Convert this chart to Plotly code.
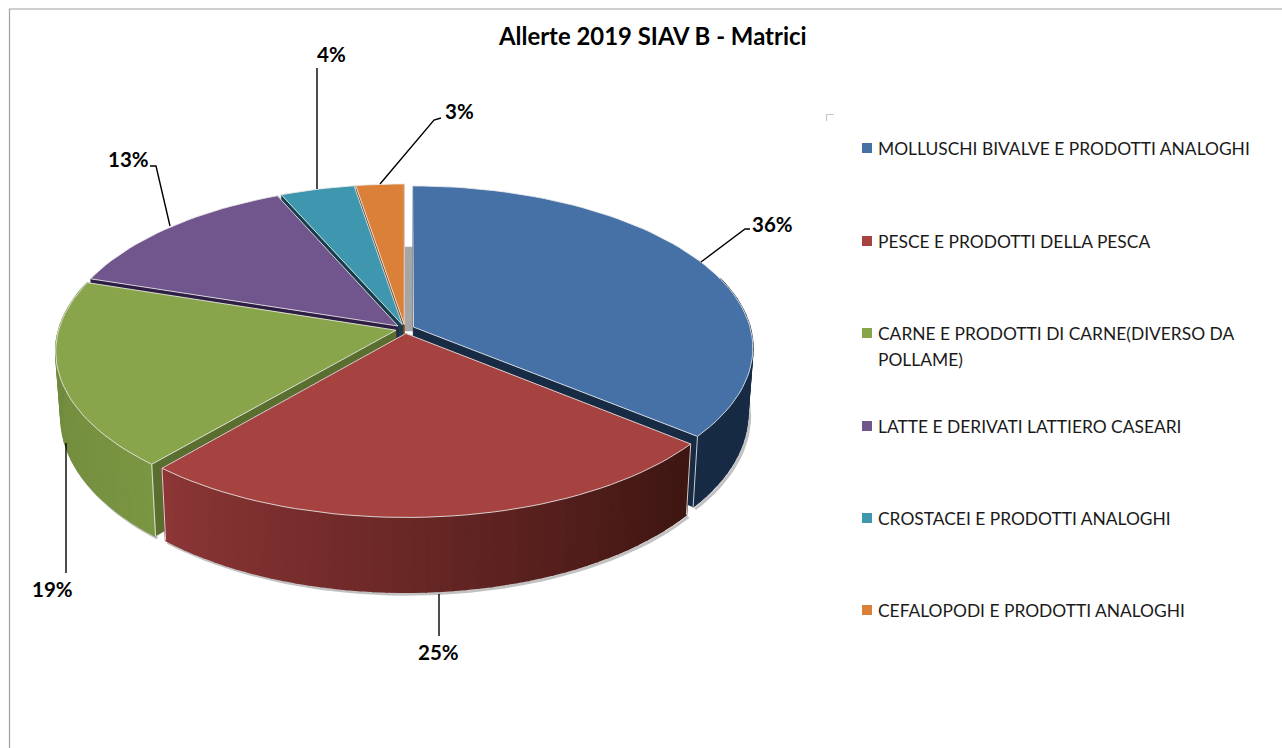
import math
import plotly.graph_objects as go

# ---------- data ----------
categories = [
    "MOLLUSCHI BIVALVE E PRODOTTI ANALOGHI",
    "PESCE E PRODOTTI DELLA PESCA",
    "CARNE E PRODOTTI DI CARNE(DIVERSO DA<br>POLLAME)",
    "LATTE E DERIVATI LATTIERO CASEARI",
    "CROSTACEI E PRODOTTI ANALOGHI",
    "CEFALOPODI E PRODOTTI ANALOGHI",
]
values = [35.9, 25.4, 18.7, 13.4, 4.0, 2.6]
title = "Allerte 2019 SIAV B - Matrici"

# ---------- styles ----------
top_colors = ["#4671A7", "#A64240", "#89A54B", "#71558D", "#3F96AF", "#DA8039"]
wall_colors = ["#172B45", "#451915", "#5A6E30", "#2E1E43", "#153F4C", "#7A4419"]
side_from = [(23, 43, 69), (140, 54, 54), (122, 150, 66), (60, 40, 90), (30, 90, 110), (140, 80, 30)]
side_to = [(23, 43, 69), (62, 22, 18), (108, 134, 60), (60, 40, 90), (30, 90, 110), (140, 80, 30)]
edge = "rgba(235,235,235,0.85)"

CX, CY = 405.0, 329.0
RX, RY = 337.0, 159.5
K = 0.1265
DEPTH = 65.0
BOTTOM_SCALE = 0.985
EXPLODE = 0.028
STEP = 2.0


def project(u, v, low=False):
    s = 1.0 / (1.0 - K * v)
    x = RX * u * s
    y = RY * v * s
    if low:
        x *= BOTTOM_SCALE
        y += DEPTH * s
    return CX + x, CY + y


def disk(a, e):
    return math.sin(a) + e[0], -math.cos(a) + e[1]


def arc(a0, a1):
    n = max(2, int(abs(a1 - a0) / STEP) + 2)
    return [math.radians(a0 + (a1 - a0) * i / (n - 1)) for i in range(n)]


total = sum(values)
slices = []
acc = 0.0
for i, val in enumerate(values):
    a0 = acc / total * 360
    acc += val
    a1 = acc / total * 360
    mid = math.radians((a0 + a1) / 2)
    slices.append(dict(i=i, a0=a0, a1=a1, e=(EXPLODE * math.sin(mid), -EXPLODE * math.cos(mid))))

fig = go.Figure()


def poly(pts, color, line=None, width=1.6):
    fig.add_trace(go.Scatter(
        x=[p[0] for p in pts] + [pts[0][0]], y=[p[1] for p in pts] + [pts[0][1]],
        mode="lines", fill="toself", fillcolor=color,
        line=dict(color=line or color, width=width),
        hoverinfo="skip", showlegend=False))


def path(pts, color, width=1):
    fig.add_trace(go.Scatter(
        x=[p[0] for p in pts], y=[p[1] for p in pts], mode="lines",
        line=dict(color=color, width=width), hoverinfo="skip", showlegend=False))


# soft drop shadow under the outer rim
for s in slices:
    if s["i"] > 2:
        continue
    pts = [project(*disk(a, s["e"]), low=True) for a in arc(s["a0"], s["a1"])]
    pts = [(x + 2, y + 2) for x, y in pts]
    path(pts, "rgba(120,120,120,0.45)", 3)

# grey inner back wall
poly([(CX, CY - 82), (CX + 8, CY - 82), (CX + 8, CY + 2), (CX, CY + 2)], "#A6A6A6", width=0.5)

# painter's order, back to front
for idx in [5, 4, 3, 0, 2, 1]:
    s = slices[idx]
    i, e = s["i"], s["e"]
    apex_t = project(e[0], e[1])
    apex_b = project(e[0], e[1], low=True)
    for a in (s["a0"], s["a1"]):
        r = math.radians(a)
        c_t = project(*disk(r, e))
        c_b = project(*disk(r, e), low=True)
        poly([apex_t, c_t, c_b, apex_b], wall_colors[i], width=0.5)
    # outer rim, shaded strip by strip, only the part that faces the viewer
    rim = arc(s["a0"], s["a1"])
    for j in range(len(rim) - 1):
        a, b = rim[j], rim[j + 1]
        if -math.cos((a + b) / 2) < -0.30:
            continue
        t = j / max(1, len(rim) - 2)
        if i == 1:
            t = 1 - t
        c = tuple(int(side_from[i][k] + (side_to[i][k] - side_from[i][k]) * t) for k in range(3))
        col = "rgb(%d,%d,%d)" % c
        poly([project(*disk(a, e)), project(*disk(b, e)),
              project(*disk(b, e), low=True), project(*disk(a, e), low=True)], col)
    # vertical corner highlights
    for a in (s["a0"], s["a1"]):
        r = math.radians(a)
        if -math.cos(r) > -0.30 and idx in (0, 1, 2):
            path([project(*disk(r, e)), project(*disk(r, e), low=True)], edge, 1)
    # top face
    top = [apex_t] + [project(*disk(a, e)) for a in rim]
    poly(top, top_colors[i], line=edge, width=1)

# ---------- legend drawn as real text beside square markers ----------
legend_y = [148, 241, 333, 426, 518, 610]
LEGEND_LEADING = 26
fig.add_trace(go.Scatter(
    x=[867] * len(categories), y=legend_y, mode="markers",
    marker=dict(symbol="square", size=10, color=top_colors, line=dict(width=0)),
    hoverinfo="skip", showlegend=False))

annotations = [dict(x=652, y=35, text="<b>%s</b>" % title, showarrow=False,
                    font=dict(family="Lato", size=23.9, color="#000000"),
                    xanchor="center", yanchor="middle")]
for name, y in zip(categories, legend_y):
    for n, line_text in enumerate(name.split("<br>")):
        annotations.append(dict(x=876, y=y - 12.5 + n * LEGEND_LEADING, text=line_text,
                                showarrow=False, align="left", xanchor="left", yanchor="top",
                                font=dict(family="Lato", size=17.4, color="#1a1a1a")))

label_pos = [(772, 224), (438, 652), (52, 589), (128, 159), (331, 54), (459, 111)]
for v, (x, y) in zip(values, label_pos):
    annotations.append(dict(x=x, y=y, text="<b>%d%%</b>" % round(v), showarrow=False,
                            font=dict(family="Lato", size=20.5, color="#000000"),
                            xanchor="center", yanchor="middle"))

leaders = ["M701,262 L745,229 L750,229", "M439,594 L439,636", "M66,443 L66,573",
           "M170,226 L156,166 L150,166", "M317,189 L317,68", "M380,184 L434,120 L441,118"]
shapes = [dict(type="path", path=p, line=dict(color="#000000", width=1.4)) for p in leaders]
# chart frame and stray corner tick
shapes += [
    dict(type="path", path="M9.5,748 L9.5,9 L1282,9", line=dict(color="#A0A0A0", width=1.2)),
    dict(type="path", path="M826.5,121 L826.5,114.5 L834,114.5", line=dict(color="#C8C8C8", width=1.2)),
]

fig.update_layout(
    width=1282, height=748, margin=dict(l=0, r=0, t=0, b=0),
    paper_bgcolor="#FFFFFF", plot_bgcolor="#FFFFFF", showlegend=False,
    xaxis=dict(range=[0, 1282], visible=False, fixedrange=True),
    yaxis=dict(range=[748, 0], visible=False, fixedrange=True),
    annotations=annotations, shapes=shapes)

# drop the page's default 8 px body margin so the figure fills the whole window
fig.write_html("out.html", config={"displayModeBar": False},
               post_script="document.body.style.margin='0';")
